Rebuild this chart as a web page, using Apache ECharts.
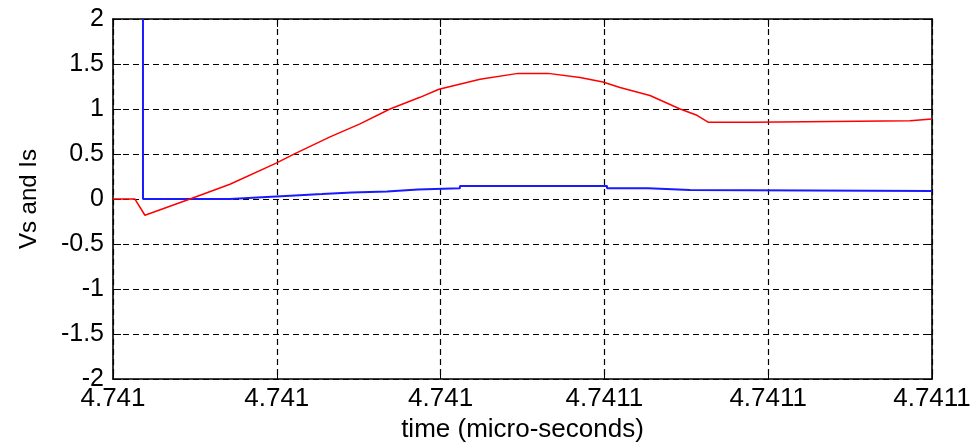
<!DOCTYPE html>
<html>
<head>
<meta charset="utf-8">
<script src="https://cdn.jsdelivr.net/npm/echarts@6/dist/echarts.min.js"></script>
<style>
  html, body { margin: 0; padding: 0; background: #fff; }
  #chart { width: 976px; height: 448px; }
</style>
</head>
<body>
<div id="chart"></div>
<script>
// Time axis: positions are in tick divisions (0..5), labelled with the rounded times.
const xTickLabels = ['4.741', '4.741', '4.741', '4.7411', '4.7411', '4.7411'];

// Vs trace (red)
const vsTime = [0, 0.134, 0.195, 0.470, 0.714, 0.993, 1.111, 1.325, 1.508, 1.691, 1.874, 1.990,
  2.241, 2.473, 2.656, 2.851, 2.991, 3.095, 3.278, 3.462, 3.565, 3.633, 3.907, 3.907, 4.866, 4.866, 5];
const vsValue = [0, 0, -0.18, 0, 0.165, 0.396, 0.505, 0.69, 0.835, 1.0, 1.13, 1.22,
  1.33, 1.396, 1.396, 1.35, 1.30, 1.24, 1.15, 1.0, 0.93, 0.854, 0.854, 0.87, 0.87, 0.89, 0.89];

// Is trace (blue), sampled in steps
const isTime = [0.183, 0.183, 0.714, 0.714, 0.909, 0.909, 1.111, 1.111, 1.276, 1.276, 1.459, 1.459,
  1.673, 1.673, 1.862, 1.862, 2.118, 2.118, 3.016, 3.016, 3.266, 3.266, 3.523, 3.523, 5];
const isValue = [2, 0, 0, 0.02, 0.02, 0.04, 0.04, 0.055, 0.055, 0.073, 0.073, 0.085,
  0.085, 0.105, 0.105, 0.12, 0.12, 0.146, 0.146, 0.12, 0.12, 0.10, 0.10, 0.09, 0.09];

const yMin = -2, yMax = 2, yStep = 0.5;

const pairs = (xs, ys) => xs.map((x, i) => [x, ys[i]]);

const font = 'Liberation Sans, Arial, sans-serif';
const frame = { show: true, onZero: false, lineStyle: { color: '#000', width: 1.6 } };
const ticksIn = { show: true, inside: true, length: 8, lineStyle: { color: '#000', width: 1 } };
const dashed = { show: true, lineStyle: { color: '#000', width: 1.2, type: [6, 4] } };

const chart = echarts.init(document.getElementById('chart'));
chart.setOption({
  animation: false,
  backgroundColor: '#fff',
  grid: { left: 113, right: 44, top: 19, bottom: 65 },
  xAxis: [
    {
      type: 'value', position: 'bottom', min: 0, max: 5, interval: 1,
      axisLine: frame, axisTick: ticksIn, splitLine: dashed,
      axisLabel: {
        color: '#000', fontFamily: font, fontSize: 26, margin: 7,
        formatter: v => xTickLabels[Math.round(v)]
      },
      name: 'time (micro-seconds)', nameLocation: 'middle', nameGap: 37,
      nameTextStyle: { color: '#000', fontFamily: font, fontSize: 26 }
    },
    {
      type: 'value', position: 'top', min: 0, max: 5, interval: 1,
      axisLine: frame, axisTick: ticksIn, splitLine: { show: false },
      axisLabel: { show: false }
    }
  ],
  yAxis: [
    {
      type: 'value', position: 'left', min: yMin, max: yMax, interval: yStep,
      axisLine: frame, axisTick: ticksIn, splitLine: dashed,
      axisLabel: { color: '#000', fontFamily: font, fontSize: 25, margin: 9 },
      name: 'Vs and Is', nameLocation: 'middle', nameRotate: 90, nameGap: 72,
      nameTextStyle: { color: '#000', fontFamily: font, fontSize: 24 }
    },
    {
      type: 'value', position: 'right', min: yMin, max: yMax, interval: yStep,
      axisLine: frame, axisTick: ticksIn, splitLine: { show: false },
      axisLabel: { show: false }
    }
  ],
  series: [
    {
      name: 'Is', type: 'line', data: pairs(isTime, isValue),
      showSymbol: false, symbol: 'none', clip: true,
      lineStyle: { color: '#1a1aff', width: 2 }
    },
    {
      name: 'Vs', type: 'line', data: pairs(vsTime, vsValue),
      showSymbol: false, symbol: 'none', clip: true,
      lineStyle: { color: '#ff0000', width: 1.5 }
    }
  ]
});
</script>
</body>
</html>
